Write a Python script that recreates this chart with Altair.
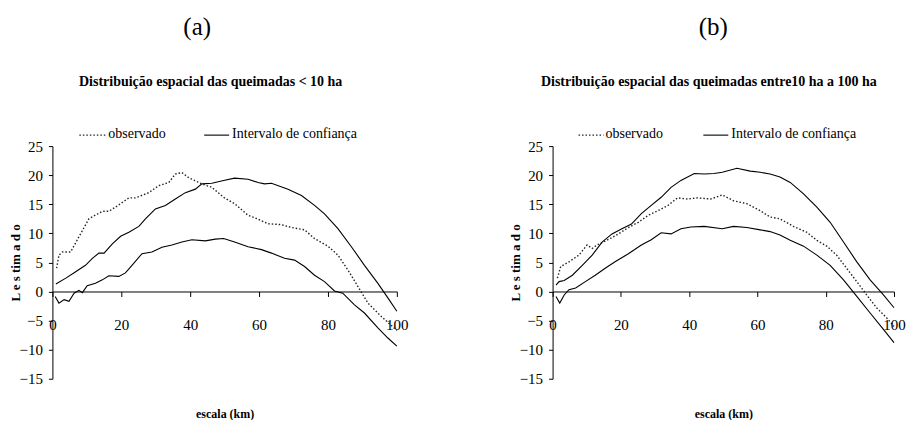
import altair as alt
import pandas as pd

FONT = "Liberation Serif"

# ---------------- data ----------------
x_ticks = [0, 20, 40, 60, 80, 100]
y_ticks = [25, 20, 15, 10, 5, 0, -5, -10, -15]

# panel (a): queimadas < 10 ha
a_obs_km = [1.2, 1.9, 2.9, 5.3, 7.7, 10.6, 14.5, 16.4, 18.3, 22.2, 24.1, 28, 30.9, 33.8, 35.7, 37.6,
            39.5, 43.4, 46.3, 49.7, 52.9, 56.8, 58.7, 62.6, 66.5, 69.4, 73.2, 76.1, 80, 82.9, 85.8,
            88.7, 91.6, 95.5, 100]
a_obs_L = [4.0, 6.25, 6.8, 6.8, 9.4, 12.5, 13.8, 13.8, 14.5, 16.1, 16.1, 17, 18.2, 18.75, 20.2, 20.45,
           19.6, 18.5, 17.9, 16.2, 15.1, 13.1, 12.7, 11.65, 11.5, 11, 10.6, 9.1, 7.8, 6.25, 3.7,
           0.85, -2, -4.3, -6.7]
a_up_km = [1, 3.9, 6.75, 9.6, 11.6, 13.5, 15, 17.4, 19.8, 22.2, 25.1, 27, 29.9, 32.8, 35.7, 38.6,
           41.5, 43.4, 46.3, 49.7, 52.9, 56.8, 59.7, 61.6, 63.6, 68.4, 72.3, 76.1, 79, 82.9, 86.8,
           90.6, 94.5, 97.4, 100]
a_up_L = [1.3, 2.3, 3.4, 4.5, 5.7, 6.6, 6.6, 8.2, 9.5, 10.2, 11.2, 12.5, 14.2, 14.8, 15.9, 17,
          17.6, 18.5, 18.6, 19.1, 19.5, 19.3, 18.75, 18.5, 18.6, 17.6, 16.5, 14.8, 13.35, 10.8, 7.7,
          4.5, 1.4, -1.1, -3.4]
a_lo_km = [0.8, 1.9, 3.4, 4.8, 6.3, 7.7, 8.7, 10.1, 12.5, 14.5, 16.4, 19.3, 21.2, 23.1, 26, 28.9,
           31.8, 34.7, 37.6, 40.5, 44.4, 47.3, 49.7, 52.9, 56.8, 60.7, 63.6, 67.4, 70.3, 73.2, 76.1,
           79, 81.9, 84.3, 87.7, 90.6, 94.5, 97.4, 100]
a_lo_L = [-0.85, -2, -1.4, -1.7, -0.3, 0.2, -0.2, 1, 1.4, 2, 2.7, 2.6, 3.2, 4.5, 6.5, 6.8,
          7.6, 8, 8.5, 8.9, 8.7, 9, 9.1, 8.5, 7.7, 7.2, 6.6, 5.7, 5.4, 4.3, 2.8,
          1.7, 0.1, -0.3, -2.3, -3.7, -6.25, -8, -9.4]

# panel (b): queimadas entre 10 ha e 100 ha
b_obs_km = [1.4, 2.4, 4.8, 7.7, 10.1, 11.6, 13, 15.9, 19.3, 22.2, 25.1, 28, 30.9, 33.8, 36.6, 39.5,
            42.4, 46.3, 49.7, 53, 56.9, 60.8, 63.7, 66.6, 70.5, 74.4, 77.4, 80.3, 83.2, 86.1, 89.1,
            92, 94.9, 97.8, 100]
b_obs_L = [2.3, 4.3, 5.1, 6.25, 8, 7.4, 8, 8.8, 9.9, 11, 11.9, 13.1, 13.9, 14.8, 16.1, 15.9,
           16.1, 15.9, 16.6, 15.6, 15.1, 13.9, 12.8, 12.5, 11.2, 10.2, 8.8, 7.8, 6.25, 4, 1.7,
           -0.6, -2.8, -4.5, -6]
b_up_km = [1, 1.9, 3.4, 5.8, 8.7, 11.6, 14.5, 17.4, 20.3, 23.1, 26, 28.9, 31.8, 34.7, 37.6, 41.5,
           44.4, 47.3, 49.7, 54, 57.9, 60.8, 63.7, 66.6, 69.6, 73.5, 77.4, 81.3, 85.2, 89.1, 93,
           96.9, 100]
b_up_L = [1.1, 1.7, 1.9, 2.8, 4.5, 6.25, 8.5, 9.9, 10.8, 11.6, 13.4, 14.8, 16.2, 17.9, 19.1, 20.3,
          20.2, 20.3, 20.5, 21.2, 20.7, 20.5, 20.2, 19.7, 18.75, 16.8, 14.5, 11.9, 8.5, 5.1, 2,
          -0.6, -2.8]
b_lo_km = [1, 2.1, 3.4, 4.8, 6.75, 9.6, 12.5, 15.4, 18.3, 22.2, 26, 28.9, 31.8, 34.7, 37.6, 40.5,
           44.4, 49.7, 53, 56.9, 60.8, 63.7, 66.6, 69.6, 73.5, 77.4, 81.3, 85.2, 89.1, 93, 96.9, 100]
b_lo_L = [-0.85, -2, -0.6, 0.3, 0.6, 1.7, 2.8, 4, 5.1, 6.5, 8, 8.9, 10.1, 9.9, 10.8, 11.1,
          11.2, 10.8, 11.2, 11, 10.6, 10.3, 9.7, 8.8, 7.8, 6.25, 4.5, 2, -0.85, -3.7, -6.5, -8.8]

legend_labels = ["observado", "Intervalo de confiança"]
x_title = "escala (km)"
y_title = "L e s tim a d o"


def panel(letter, title, obs_km, obs_L, up_km, up_L, lo_km, lo_L, w, h, lx, tx):
    rows = []
    for k, v in zip(obs_km, obs_L):
        rows.append({"km": k, "L": v, "serie": "observado"})
    for k, v in zip(up_km, up_L):
        rows.append({"km": k, "L": v, "serie": "superior"})
    for k, v in zip(lo_km, lo_L):
        rows.append({"km": k, "L": v, "serie": "inferior"})
    df = pd.DataFrame(rows)

    x = alt.X("km:Q", scale=alt.Scale(domain=[0, 100], nice=False, zero=False),
              axis=alt.Axis(values=x_ticks, title=x_title, offset=-h * 15 / 40,
                            tickSize=5, labelPadding=21, labelFontSize=15, labelFlush=False,
                            titlePadding=76, titleFontSize=12, titleFontWeight="bold",
                            labelOverlap=False))
    y = alt.Y("L:Q", scale=alt.Scale(domain=[-15, 25], nice=False, zero=False),
              axis=alt.Axis(values=y_ticks, title=y_title, tickSize=4, labelPadding=6,
                            labelFontSize=15, titleFontSize=13, titleFontWeight="bold",
                            titleX=-37, titleY=h / 2, titleAngle=-90, titleBaseline="middle",
                            titleAlign="center", labelOverlap=False, labelFlush=False))

    obs = alt.Chart(df).transform_filter(alt.datum.serie == "observado").mark_line(
        color="#222", strokeWidth=1.4, strokeDash=[1.5, 2]).encode(x=x, y=y)
    ci = alt.Chart(df).transform_filter(alt.datum.serie != "observado").mark_line(
        color="black", strokeWidth=1.1).encode(x=x, y=y, detail="serie:N")

    one = pd.DataFrame({"k": [0]})
    leg_dot = alt.Chart(one).mark_rule(color="#222", strokeWidth=1.4, strokeDash=[1.5, 2]).encode(
        x=alt.value(lx[0]), x2=alt.value(lx[1]), y=alt.value(-11))
    leg_sol = alt.Chart(one).mark_rule(color="black", strokeWidth=1.1).encode(
        x=alt.value(lx[3]), x2=alt.value(lx[4]), y=alt.value(-11))
    leg_t1 = alt.Chart(pd.DataFrame({"t": [legend_labels[0]]})).mark_text(
        font=FONT, fontSize=14, align="left", baseline="middle", color="black").encode(
        text="t:N", x=alt.value(lx[2]), y=alt.value(-12))
    leg_t2 = alt.Chart(pd.DataFrame({"t": [legend_labels[1]]})).mark_text(
        font=FONT, fontSize=14, align="left", baseline="middle", color="black").encode(
        text="t:N", x=alt.value(lx[5]), y=alt.value(-12))
    t_letter = alt.Chart(pd.DataFrame({"t": [letter]})).mark_text(
        font=FONT, fontSize=25, align="center", baseline="middle", color="black").encode(
        text="t:N", x=alt.value(tx[0]), y=alt.value(-119))
    t_title = alt.Chart(pd.DataFrame({"t": [title]})).mark_text(
        font=FONT, fontSize=14, fontWeight="bold", align="center", baseline="middle",
        color="black").encode(text="t:N", x=alt.value(tx[1]), y=alt.value(-64))

    return alt.layer(ci, obs, leg_dot, leg_sol, leg_t1, leg_t2, t_letter, t_title).properties(
        width=w, height=h)


H = 233
pa = panel("(a)", "Distribuição espacial das queimadas < 10 ha",
           a_obs_km, a_obs_L, a_up_km, a_up_L, a_lo_km, a_lo_L, 345, H,
           [27, 54, 56, 152, 177, 180], [145, 158.5])
pb = panel("(b)", "Distribuição espacial das queimadas entre10 ha a 100 ha",
           b_obs_km, b_obs_L, b_up_km, b_up_L, b_lo_km, b_lo_L, 342, H,
           [26, 51, 53, 151, 176, 179], [161, 156.5])

chart = alt.hconcat(pa, pb, spacing=156, bounds="flush").properties(
    padding={"left": 9.5, "top": 15, "right": 0, "bottom": 0},
    background="white",
).configure_view(stroke=None).configure_axis(
    labelFont=FONT, titleFont=FONT, labelColor="black", titleColor="black",
    domainColor="black", tickColor="black", grid=False, domainWidth=1, tickWidth=1,
)

chart.save("out.html", embed_options={"renderer": "svg", "actions": False})
